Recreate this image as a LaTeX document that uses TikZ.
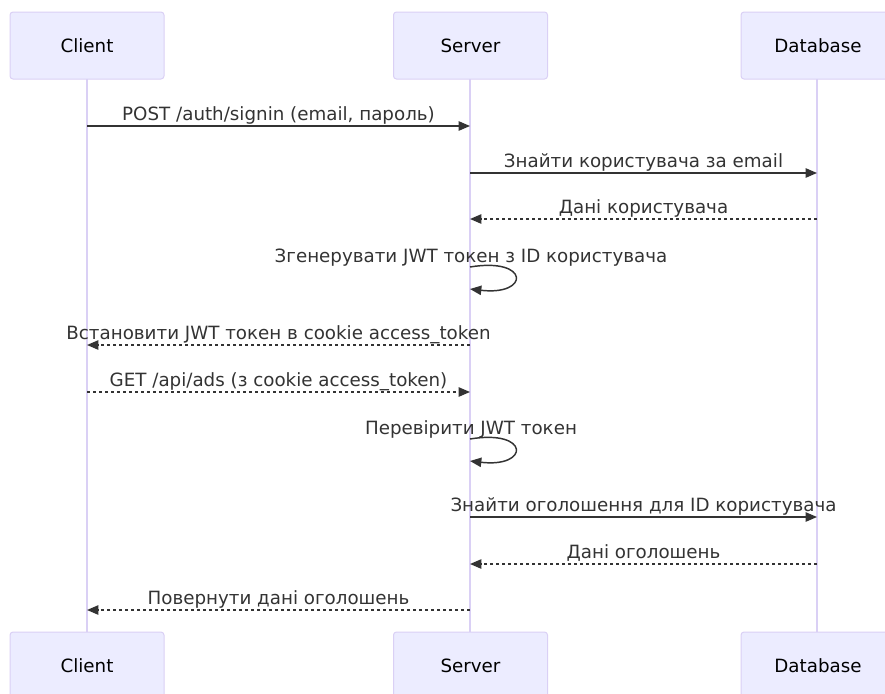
\documentclass[tikz,border=0pt]{standalone}
\usepackage{fontspec}
\setmainfont{DejaVu Sans}
\usetikzlibrary{arrows.meta}
\definecolor{actorfill}{HTML}{ECECFF}
\definecolor{actorline}{HTML}{DAD0F5}
\definecolor{msgcol}{HTML}{333333}
\tikzset{
  actor/.style={draw=actorline, fill=actorfill, line width=0.75pt, rounded corners=2.25pt,
    minimum width=154*0.75pt, minimum height=67*0.75pt, inner sep=0pt, font=\fontsize{13.7}{16}\selectfont, text=black},
  lifeline/.style={draw=actorline, line width=1.1pt},
  msg/.style={draw=msgcol, line width=1.1pt, -{Triangle[length=8.5pt,width=7pt]}},
  reply/.style={msg, dash pattern=on 2.25pt off 2.25pt},
  lbl/.style={font=\fontsize{13.7}{16}\selectfont, text=msgcol, inner sep=0pt, anchor=base}
}
\begin{document}
\begin{tikzpicture}[x=0.75pt,y=-0.75pt]
\useasboundingbox (0,0) rectangle (885,693);
\clip (0,0) rectangle (885,693);
% lifelines
\coordinate (ct) at (87,79);  \coordinate (cb) at (87,632);
\coordinate (st) at (470,79); \coordinate (sb) at (470,632);
\coordinate (dt) at (817,79); \coordinate (db) at (817,632);
\draw[lifeline] (ct) -- (cb);
\draw[lifeline] (st) -- (sb);
\draw[lifeline] (dt) -- (db);
% actors
\node[actor] (client) at (87,45.5) {Client};
\node[actor] (server) at (470.5,45.5) {Server};
\node[actor] (database) at (818,45.5) {Database};
\node[actor] (client2) at (87,665.5) {Client};
\node[actor] (server2) at (470.5,665.5) {Server};
\node[actor] (database2) at (818,665.5) {Database};
% message 1
\coordinate (m1a) at (87,126); \coordinate (m1b) at (470,126);
\draw[msg] (m1a) -- (m1b);
\node[lbl] (t1) at (278.5,120) {POST /auth/signin (email, пароль)};
% message 2
\coordinate (m2a) at (470,173); \coordinate (m2b) at (817,173);
\draw[msg] (m2a) -- (m2b);
\node[lbl] (t2) at (643.5,167) {Знайти користувача за email};
% message 3
\coordinate (m3a) at (817,219); \coordinate (m3b) at (470,219);
\draw[reply] (m3a) -- (m3b);
\node[lbl] (t3) at (643.5,213) {Дані користувача};
% self 1
\node[lbl] (t4) at (471,262) {Згенерувати JWT токен з ID користувача};
\coordinate (s1a) at (470,267); \coordinate (s1b) at (470,289);
\draw[msg] (s1a) .. controls (530,257) and (530,296) .. (s1b);
% message 5
\coordinate (m5a) at (470,345); \coordinate (m5b) at (87,345);
\draw[reply] (m5a) -- (m5b);
\node[lbl] (t5) at (278.5,339) {Встановити JWT токен в cookie access\_token};
% message 6
\coordinate (m6a) at (87,392); \coordinate (m6b) at (470,392);
\draw[reply] (m6a) -- (m6b);
\node[lbl] (t6) at (278.5,386) {GET /api/ads (з cookie access\_token)};
% self 2
\node[lbl] (t7) at (471,434) {Перевірити JWT токен};
\coordinate (s2a) at (470,439); \coordinate (s2b) at (470,461);
\draw[msg] (s2a) .. controls (530,429) and (530,468) .. (s2b);
% message 8
\coordinate (m8a) at (470,517); \coordinate (m8b) at (817,517);
\draw[msg] (m8a) -- (m8b);
\node[lbl] (t8) at (643.5,511) {Знайти оголошення для ID користувача};
% message 9
\coordinate (m9a) at (817,564); \coordinate (m9b) at (470,564);
\draw[reply] (m9a) -- (m9b);
\node[lbl] (t9) at (643.5,558) {Дані оголошень};
% message 10
\coordinate (m10a) at (470,610); \coordinate (m10b) at (87,610);
\draw[reply] (m10a) -- (m10b);
\node[lbl] (t10) at (278.5,604) {Повернути дані оголошень};
\end{tikzpicture}
\end{document}
